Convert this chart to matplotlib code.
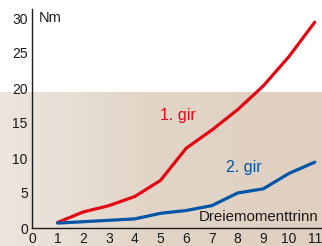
import numpy as np
import matplotlib
matplotlib.use("Agg")
import matplotlib.pyplot as plt
from matplotlib.colors import LinearSegmentedColormap

# engine speed steps and torque (Nm) per gear
steps = [1, 2, 3, 4, 5, 6, 7, 8, 9, 10, 11]
gir_1 = [0.8, 2.3, 3.2, 4.5, 6.8, 11.4, 14.0, 16.9, 20.3, 24.5, 29.4]
gir_2 = [0.7, 0.9, 1.1, 1.3, 2.1, 2.5, 3.2, 5.0, 5.6, 7.8, 9.4]
x_ticks = list(range(0, 12))
y_ticks = [0, 5, 10, 15, 20, 25, 30]

plt.rcParams["font.family"] = ["Liberation Sans", "DejaVu Sans"]

fig = plt.figure(figsize=(3.22, 2.46), dpi=100)

# beige background band in figure coordinates
bg = fig.add_axes([0, 0, 1, 154 / 246], zorder=0)
cmap = LinearSegmentedColormap.from_list(
    "beige", [(0, "#ede6df"), (0.45, "#e2d5c8"), (1, "#dfcfc0")])
grad = np.linspace(0, 1, 256).reshape(1, -1)
bg.imshow(grad, aspect="auto", cmap=cmap, extent=[0, 1, 0, 1])
bg.axis("off")

ax = fig.add_axes([32 / 322, 18 / 246, 290 / 322, 219 / 246], zorder=1)
ax.patch.set_alpha(0)
ax.plot(steps, gir_1, color="#e30613", lw=2.3, solid_capstyle="round")
ax.plot(steps, gir_2, color="#0055a6", lw=2.3, solid_capstyle="round")

ax.set_xlim(0, 290 / 25.7)
ax.set_ylim(0, 219 / 7)
ax.set_xticks(x_ticks)
ax.set_yticks(y_ticks)
ax.tick_params(length=0, labelsize=10, colors="#1a1a1a", pad=3)
for s in ["top", "right"]:
    ax.spines[s].set_visible(False)
for s in ["left", "bottom"]:
    ax.spines[s].set_color("#1a1a1a")
    ax.spines[s].set_linewidth(1.0)

ax.text(0.25, 30, "Nm", fontsize=10.5, color="#1a1a1a", va="center")
ax.text(5.0, 16.1, "1. gir", fontsize=11.5, color="#e30613", va="center")
ax.text(7.55, 8.6, "2. gir", fontsize=11.5, color="#0055a6", va="center")
ax.text(6.5, 1.6, "Dreiemomenttrinn", fontsize=10.8, color="#1a1a1a", va="center")

fig.savefig("out.png", dpi=100)
